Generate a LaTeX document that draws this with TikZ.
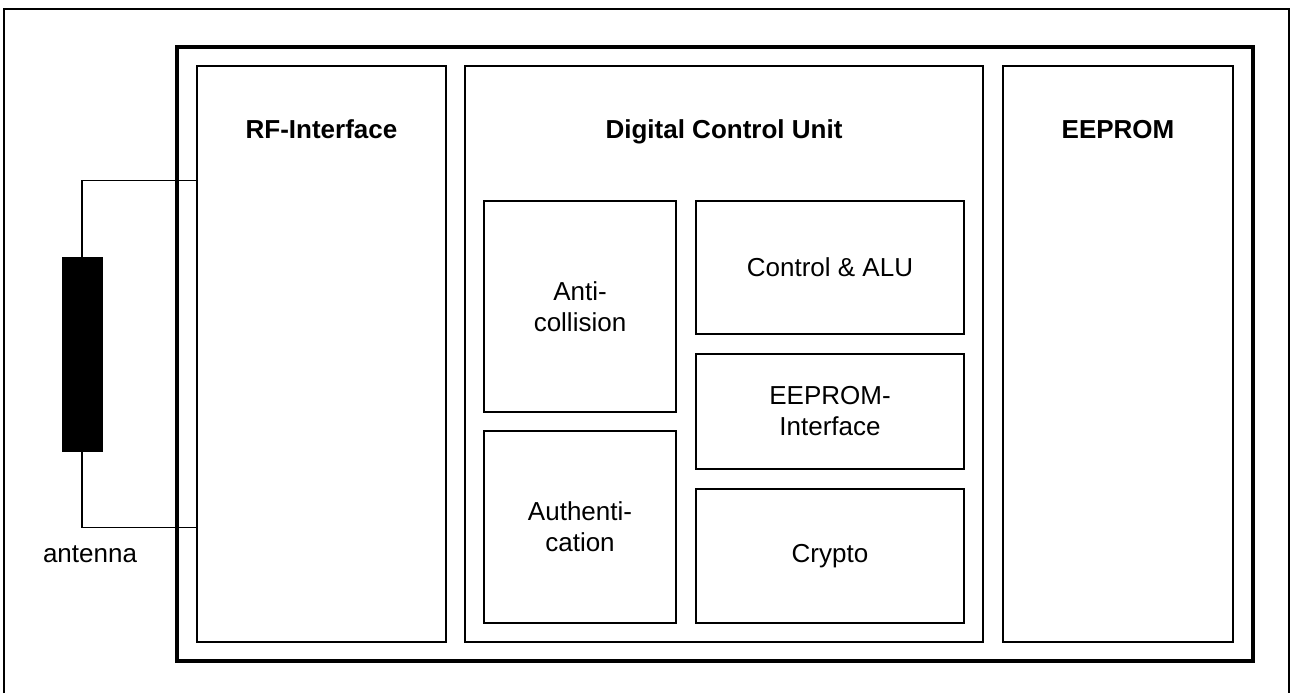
\documentclass[tikz,border=0pt]{standalone}
\usepackage{fontspec}
\setmainfont{Liberation Sans}
\usetikzlibrary{calc}
\tikzstyle{frame}=[draw, line width=1.5pt]
\tikzstyle{chip}=[rectangle, draw, line width=4pt, inner sep=0pt]
\tikzstyle{block}=[rectangle, draw, line width=1.3pt, inner sep=0pt]
\tikzstyle{unit}=[block, align=center, font=\fontsize{26}{31}\selectfont]
\tikzstyle{title}=[font=\bfseries\fontsize{26}{31}\selectfont, anchor=base]
\tikzstyle{wire}=[draw, line width=1.3pt]

\begin{document}
\begin{tikzpicture}[x=1pt,y=-1pt]
  \useasboundingbox (0,0) rectangle (1292,693);
  \draw[frame] (4,693) -- (4,9) -- (1289,9) -- (1289,693);
  \node[chip, minimum width=1076pt, minimum height=614pt] (chip) at (715,354) {};
  % columns
  \node[block, minimum width=249pt, minimum height=576pt] (rf) at (321.5,354) {};
  \node[block, minimum width=518pt, minimum height=576pt] (dcu) at (724,354) {};
  \node[block, minimum width=230pt, minimum height=576pt] (eeprom) at (1118,354) {};
  \node[title] (rftitle) at ($(rf.north)+(0,73)$) {RF-Interface};
  \node[title] (dcutitle) at ($(dcu.north)+(0,73)$) {Digital Control Unit};
  \node[title] (eepromtitle) at ($(eeprom.north)+(0,73)$) {EEPROM};
  % digital control unit
  \node[unit, minimum width=192pt, minimum height=211pt] (anticoll) at (580,306.5) {Anti-\\collision};
  \node[unit, minimum width=192pt, minimum height=192pt] (auth) at (580,527) {Authenti-\\cation};
  \node[unit, minimum width=268pt, minimum height=133pt] (alu) at (830,267.5) {Control \& ALU};
  \node[unit, minimum width=268pt, minimum height=115pt] (eepromif) at (830,411.5) {EEPROM-\\Interface};
  \node[unit, minimum width=268pt, minimum height=134pt] (crypto) at (830,556) {Crypto};
  % antenna
  \node[rectangle, fill=black, draw, line width=1pt, minimum width=40pt, minimum height=194pt] (ant) at (82,354) {};
  \node[font=\fontsize{26}{31}\selectfont, anchor=base] (antlabel) at (90,562) {antenna};
  \draw[wire] (ant.north) |- ($(rf.north west)+(0,115)$);
  \draw[wire] (ant.south) |- ($(rf.south west)+(0,-115)$);
\end{tikzpicture}
\end{document}
